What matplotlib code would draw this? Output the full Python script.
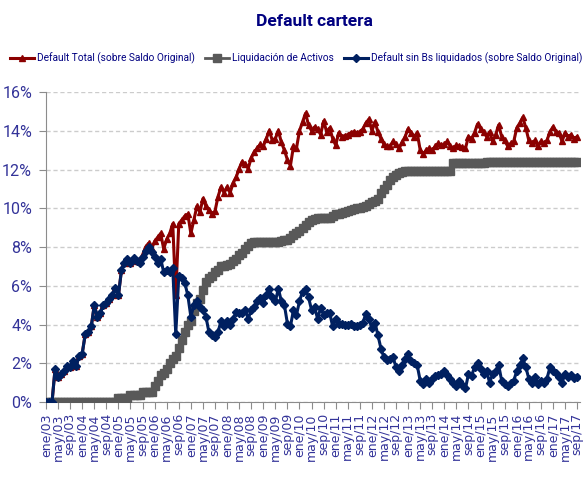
import matplotlib
matplotlib.use('Agg')
import matplotlib.pyplot as plt
import numpy as np
from matplotlib.ticker import FuncFormatter

# monthly values, ene/03 .. sep/17 (%)
default_total = [
    0.0, 0.0, 0.0, 1.7, 1.3, 1.45, 1.6, 1.85, 1.8, 2.1, 1.85, 2.4,
    2.5, 3.5, 3.6, 3.9, 5.0, 4.4, 4.6, 5.0, 5.1, 5.3, 5.5, 5.9,
    5.5, 6.8, 7.2, 7.4, 7.2, 7.45, 7.3, 7.3, 7.6, 8.0, 8.2, 7.9,
    8.3, 8.5, 8.7, 7.9, 8.4, 8.7, 9.2, 5.5, 9.2, 9.4, 9.6, 9.7,
    8.7, 9.4, 10.1, 9.8, 10.5, 10.1, 9.9, 9.7, 9.85, 10.6, 11.1, 10.8,
    11.1, 10.8, 11.3, 11.6, 12.05, 12.4, 12.3, 12.05, 12.6, 12.9, 13.1, 13.3,
    13.2, 13.6, 14.0, 13.5, 13.6, 14.0, 13.4, 13.0, 12.5, 12.2, 13.2, 13.1,
    14.0, 14.45, 14.9, 14.3, 14.0, 14.2, 14.1, 13.8, 14.5, 13.95, 14.15, 13.6,
    13.25, 13.9, 13.7, 13.75, 13.8, 13.9, 13.95, 13.9, 13.95, 14.1, 14.4, 14.6,
    14.0, 14.45, 13.95, 13.6, 13.3, 13.2, 13.2, 13.45, 13.3, 13.1, 13.4, 13.7,
    14.1, 13.9, 13.7, 13.9, 13.0, 12.8, 13.0, 13.1, 13.0, 13.2, 13.35, 13.25,
    13.3, 13.45, 13.2, 13.1, 13.25, 13.2, 13.15, 13.1, 13.7, 13.6, 13.9, 14.35,
    14.1, 13.95, 13.7, 13.95, 13.45, 13.8, 14.3, 13.7, 13.5, 13.2, 13.35, 13.45,
    14.15, 14.4, 14.7, 14.15, 13.5, 13.35, 13.5, 13.2, 13.45, 13.35, 13.5, 13.95,
    14.2, 13.95, 13.9, 13.45, 13.9, 13.7, 13.8, 13.6, 13.7,
]

liquidacion = [
    0.0, 0.0, 0.0, 0.0, 0.0, 0.0, 0.0, 0.0, 0.0, 0.0, 0.0, 0.0,
    0.0, 0.0, 0.0, 0.0, 0.0, 0.0, 0.0, 0.0, 0.0, 0.0, 0.0, 0.0,
    0.2, 0.2, 0.2, 0.2, 0.35, 0.35, 0.35, 0.35, 0.5, 0.5, 0.5, 0.5,
    0.85, 1.1, 1.4, 1.5, 1.7, 2.0, 2.2, 2.4, 2.8, 3.2, 3.6, 4.0,
    4.2, 4.7, 5.1, 5.3, 5.8, 6.2, 6.4, 6.5, 6.7, 6.8, 7.0, 7.0,
    7.05, 7.1, 7.3, 7.4, 7.6, 7.7, 7.9, 8.05, 8.2, 8.25, 8.25, 8.25,
    8.25, 8.25, 8.25, 8.25, 8.25, 8.25, 8.3, 8.35, 8.35, 8.45, 8.6, 8.7,
    8.85, 9.0, 9.15, 9.3, 9.4, 9.45, 9.5, 9.5, 9.5, 9.5, 9.5, 9.6,
    9.7, 9.7, 9.75, 9.8, 9.85, 9.9, 9.95, 10.0, 10.0, 10.05, 10.1, 10.2,
    10.3, 10.4, 10.5, 10.8, 11.0, 11.2, 11.45, 11.6, 11.7, 11.8, 11.85, 11.9,
    11.95, 11.95, 11.95, 11.95, 11.95, 11.95, 11.95, 11.95, 11.95, 11.95, 11.95, 11.95,
    11.95, 11.95, 11.95, 12.35, 12.35, 12.35, 12.35, 12.35, 12.35, 12.35, 12.35, 12.35,
    12.35, 12.35, 12.4, 12.4, 12.4, 12.4, 12.4, 12.4, 12.4, 12.4, 12.4, 12.4,
    12.4, 12.4, 12.4, 12.4, 12.4, 12.4, 12.4, 12.4, 12.4, 12.4, 12.4, 12.4,
    12.4, 12.4, 12.4, 12.4, 12.4, 12.4, 12.4, 12.4, 12.4,
]

default_sin_liq = [
    0.0, 0.0, 0.0, 1.7, 1.3, 1.45, 1.6, 1.85, 1.8, 2.1, 1.85, 2.4,
    2.5, 3.5, 3.6, 3.9, 5.0, 4.4, 4.6, 5.0, 5.1, 5.3, 5.5, 5.9,
    5.5, 6.8, 7.2, 7.4, 7.2, 7.45, 7.3, 7.2, 7.5, 7.8, 8.0, 7.75,
    7.5, 7.2, 7.4, 6.7, 6.8, 6.7, 6.9, 3.5, 6.5, 6.4, 6.15, 5.5,
    4.4, 5.0, 5.2, 4.9, 4.75, 4.4, 3.6, 3.45, 3.35, 3.6, 4.2, 3.9,
    4.2, 3.95, 4.3, 4.65, 4.6, 4.6, 4.75, 4.3, 4.75, 4.9, 5.2, 5.35,
    5.1, 5.5, 5.85, 5.4, 5.2, 5.85, 5.2, 5.0, 4.05, 3.9, 4.75, 4.5,
    5.2, 5.7, 5.85, 5.4, 4.75, 4.9, 4.3, 4.85, 4.5, 4.6, 4.6, 3.9,
    4.3, 4.05, 4.05, 3.95, 3.95, 4.05, 3.9, 3.9, 4.0, 4.1, 4.55, 4.3,
    3.8, 4.1, 3.45, 2.75, 2.3, 2.15, 2.2, 2.3, 1.8, 1.6, 1.9, 2.2,
    2.5, 2.1, 2.0, 1.9, 1.1, 0.95, 1.2, 1.0, 1.2, 1.35, 1.4, 1.45,
    1.6, 1.4, 1.2, 1.0, 0.85, 1.1, 0.9, 0.7, 1.45, 1.35, 1.8, 2.0,
    1.7, 1.45, 1.6, 1.0, 1.45, 1.6, 1.9, 1.1, 0.95, 0.85, 1.0, 1.1,
    1.6, 1.9, 2.25, 1.8, 1.2, 1.0, 1.3, 0.95, 1.1, 1.0, 1.2, 1.8,
    1.6, 1.5, 1.3, 1.0, 1.45, 1.3, 1.4, 1.25, 1.3,
]

month_names = ['ene', 'may', 'sep']
years = list(range(3, 18))
tick_labels = ['%s/%02d' % (m, y) for y in years for m in month_names]

series_labels = ['Default Total (sobre Saldo Original)',
                 'Liquidación de Activos',
                 'Default sin Bs liquidados (sobre Saldo Original)']


def main():
    narrow = ['Roboto', 'DejaVu Sans']
    txt_blue = '#333399'

    fig = plt.figure(figsize=(5.86, 4.87), dpi=100)
    ax = fig.add_axes([0.0785, 0.1745, 0.9115, 0.6365])

    x = np.arange(len(default_total))
    ax.plot(x, default_total, color='#8B0000', lw=2.2, marker='^', ms=4,
            label=series_labels[0], zorder=3)
    ax.plot(np.arange(len(liquidacion)), liquidacion, color='#595959', lw=2,
            marker='s', ms=5.8, label=series_labels[1], zorder=4)
    ax.plot(np.arange(len(default_sin_liq)), default_sin_liq, color='#002060',
            lw=2.2, marker='D', ms=3.6, label=series_labels[2], zorder=5)

    ax.set_xlim(0, 177)
    ax.set_ylim(0, 16)
    ax.set_yticks(np.arange(0, 17, 2))
    ax.yaxis.set_major_formatter(FuncFormatter(lambda v, p: '%d%%' % v))
    ax.set_xticks(np.arange(0, 4 * len(tick_labels), 4))
    ax.set_xticklabels(tick_labels, rotation=90, fontsize=9, color=txt_blue,
                       family='DejaVu Sans')
    for lab in ax.get_yticklabels():
        lab.set_family(narrow)
        lab.set_fontsize(11.5)
        lab.set_color(txt_blue)

    ax.yaxis.grid(True, linestyle=(0, (3, 2)), color='#cccccc', lw=1)
    ax.set_axisbelow(True)
    for s in ['top', 'right']:
        ax.spines[s].set_visible(False)
    for s in ['left', 'bottom']:
        ax.spines[s].set_color('#8c8c8c')
    ax.tick_params(axis='both', color='#8c8c8c', length=5, pad=3)
    ax.tick_params(axis='y', pad=5)

    fig.text(0.537, 0.955, 'Default cartera', ha='center', va='center',
             fontsize=12.5, fontweight='bold', color='#000080', family=narrow)
    fig.legend(loc='center', bbox_to_anchor=(0.505, 0.881), ncol=3, frameon=False,
               prop={'family': narrow, 'size': 7.3}, labelcolor='#000080',
               handlelength=2.4, handletextpad=0.25, columnspacing=1.0,
               borderpad=0.1)

    fig.savefig('out.png', dpi=100)


if __name__ == "__main__":
    main()
